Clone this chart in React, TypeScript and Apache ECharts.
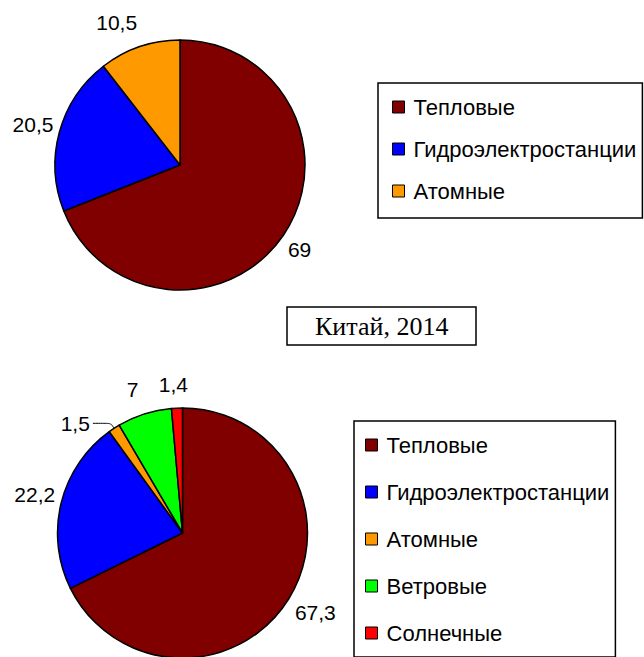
import React, { useEffect, useRef } from 'react';
import * as echarts from 'echarts';

// ---- data ----
const allCategories = ['Тепловые', 'Гидроэлектростанции', 'Атомные', 'Ветровые', 'Солнечные'];
const topCategories = ['Тепловые', 'Гидроэлектростанции', 'Атомные'];
const topValues = [69, 20.5, 10.5];
const bottomValues = [67.3, 22.2, 1.5, 7, 1.4];
const titleText = 'Китай, 2014';

// ---- styles ----
const sliceColors = ['#800000', '#0000FF', '#FF9900', '#00FF00', '#FF0000'];
const FONT = 'Liberation Sans, Arial, sans-serif';
// label tuning (line length, horizontal segment, distance to line)
const topLabelLen = [26, 30, 26];
const topLabelDist = [-17, -23, -6];
const bottomLabelLen = [25, 33, 6, 26, 24];
const bottomLabelLen2 = [0, 0, 18, 0, 0];
const bottomLabelDist = [-15, -26, 3, -2, -12];
const bottomLineShow = [false, false, true, false, false];

const fmt = (v: number) => String(v).replace('.', ',');

export default function App() {
  const ref = useRef<HTMLDivElement>(null);
  useEffect(() => {
    if (!ref.current) return;
    const chart = echarts.init(ref.current, undefined, { renderer: 'svg' });
    const labelBase = {
      show: true,
      position: 'outside',
      color: '#000',
      fontFamily: FONT,
      fontSize: 21,
      formatter: (p: any) => fmt(p.value),
    };
    const legendText = { fontFamily: FONT, fontSize: 22, lineHeight: 21, color: '#000', padding: [0, 0, 0, 4] };
    const option: any = {
      animation: false,
      color: sliceColors,
      title: {
        text: titleText,
        left: 287,
        top: 307,
        padding: [6, 28],
        borderColor: '#000',
        borderWidth: 1.5,
        textStyle: {
          fontFamily: 'Liberation Serif, Times New Roman, serif',
          fontSize: 26,
          lineHeight: 26,
          fontWeight: 'normal',
          color: '#000',
        },
      },
      legend: [
        {
          data: topCategories,
          orient: 'vertical',
          left: 378,
          top: 83,
          padding: [13, 6, 16, 14],
          itemGap: 20,
          itemWidth: 12,
          itemHeight: 12,
          icon: 'rect',
          borderColor: '#000',
          borderWidth: 1.5,
          selectedMode: false,
          itemStyle: { borderColor: '#000', borderWidth: 1 },
          textStyle: legendText,
        },
        {
          data: allCategories,
          orient: 'vertical',
          left: 354,
          top: 421,
          height: 400,
          padding: [13, 6, 13, 11],
          itemGap: 25,
          itemWidth: 12,
          itemHeight: 12,
          icon: 'rect',
          borderColor: '#000',
          borderWidth: 1.5,
          selectedMode: false,
          itemStyle: { borderColor: '#000', borderWidth: 1 },
          textStyle: legendText,
        },
      ],
      series: [
        {
          type: 'pie',
          center: [180, 165],
          radius: 125,
          startAngle: 90,
          clockwise: true,
          avoidLabelOverlap: false,
          silent: true,
          itemStyle: { borderColor: '#000', borderWidth: 1.5 },
          emphasis: { disabled: true },
          data: topCategories.map((name, i) => ({
            name,
            value: topValues[i],
            label: { ...labelBase, distanceToLabelLine: topLabelDist[i] },
            labelLine: { show: false, length: topLabelLen[i], length2: 0 },
          })),
        },
        {
          type: 'pie',
          center: [182.5, 533],
          radius: 125,
          startAngle: 90,
          clockwise: true,
          avoidLabelOverlap: false,
          silent: true,
          itemStyle: { borderColor: '#000', borderWidth: 1.5 },
          emphasis: { disabled: true },
          data: allCategories.map((name, i) => ({
            name,
            value: bottomValues[i],
            label: { ...labelBase, distanceToLabelLine: bottomLabelDist[i] },
            labelLine: {
              show: bottomLineShow[i],
              length: bottomLabelLen[i],
              length2: bottomLabelLen2[i],
              smooth: 0.3,
              lineStyle: { color: '#000', width: 1 },
            },
          })),
        },
      ],
    };
    chart.setOption(option);
    return () => chart.dispose();
  }, []);
  return (
    <div
      ref={ref}
      style={{ position: 'absolute', left: 0, top: 0, width: 644, height: 657, background: '#fff' }}
    />
  );
}
